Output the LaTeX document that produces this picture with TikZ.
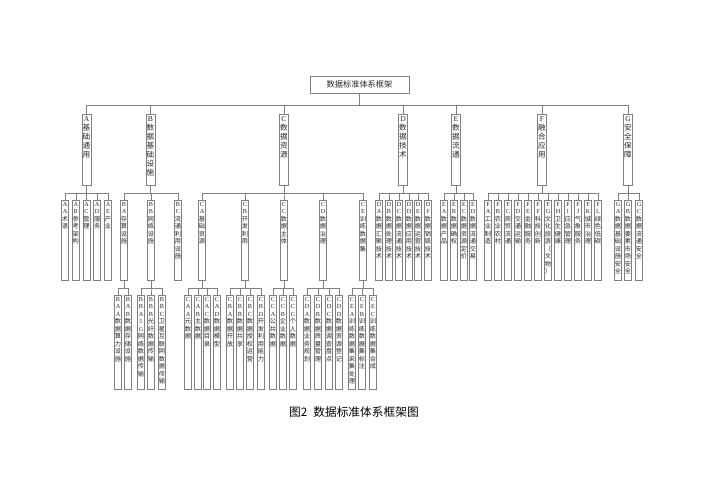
\documentclass[tikz,border=0pt]{standalone}
\usepackage{fontspec}
\setmainfont{Liberation Serif}
\newfontfamily\cjk{Noto Sans CJK SC}
\makeatletter
% one character per line, Latin in serif, Chinese in the CJK font
\newcommand\vchar{\ifnum\expandafter`\vch<256 \vch\else{\cjk\vch}\fi}
\newcommand\vloop[1]{\@tfor\vch:=#1\do{\hbox to\hsize{\hss\vchar\hss}}}
\newcommand\vlabel[1]{\parbox[t][\vh][t]{\vw}{\vloop{#1}}}
\makeatother
\begin{document}
\begin{tikzpicture}[x=0.03cm,y=-0.03cm,
  box/.style={draw=black!50,line width=0.5pt,inner xsep=0.5pt,inner ysep=1.5pt,anchor=north,text=black!85},
  one/.style={box,font=\fontsize{6.5}{7.7}\selectfont,execute at begin node={\def\vw{0.235cm}\def\vh{2.02cm}}},
  two/.style={box,font=\fontsize{5.3}{6.4}\selectfont,execute at begin node={\def\vw{0.175cm}\def\vh{2.29cm}}},
  three/.style={box,font=\fontsize{5.3}{6.4}\selectfont,execute at begin node={\def\vw{0.175cm}\def\vh{2.71cm}}},
  link/.style={draw=black!50,line width=0.5pt}]
\useasboundingbox (0,0) rectangle (707,500);

% Root
\node[draw=black!50,line width=0.5pt,minimum width=2.97cm,minimum height=0.51cm,inner sep=0,
  font=\cjk\fontsize{7}{8}\selectfont,text=black!85] (root) at (359.5,84.5) {数据标准体系框架};

% First level
\node[one] (a) at (86.5,114) {\vlabel{A基础通用}};
\node[one] (b) at (150.5,114) {\vlabel{B数据基础设施}};
\node[one] (c) at (284,114) {\vlabel{C数据资源}};
\node[one] (d) at (403,114) {\vlabel{D数据技术}};
\node[one] (e) at (456,114) {\vlabel{E数据流通}};
\node[one] (f) at (542,114) {\vlabel{F融合应用}};
\node[one] (g) at (628,114) {\vlabel{G安全保障}};

% Second level
\node[two] (aa) at (65,200) {\vlabel{AA术语}};
\node[two] (ab) at (75.8,200) {\vlabel{AB参考架构}};
\node[two] (ac) at (86.5,200) {\vlabel{AC管理}};
\node[two] (ad) at (97.2,200) {\vlabel{AD服务}};
\node[two] (ae) at (108,200) {\vlabel{AE产业}};
\node[two] (ba) at (124,200) {\vlabel{BA存算设施}};
\node[two] (bb) at (151,200) {\vlabel{BB网络设施}};
\node[two] (bc) at (178,200) {\vlabel{BC流通利用设施}};
\node[two] (ca) at (202,200) {\vlabel{CA基础资源}};
\node[two] (cb) at (245,200) {\vlabel{CB开发利用}};
\node[two] (cc) at (284,200) {\vlabel{CC数据主体}};
\node[two] (cd) at (323,200) {\vlabel{CD数据治理}};
\node[two] (ce) at (363,200) {\vlabel{CE训练数据集}};
\node[two] (da) at (379,200) {\vlabel{DA数据汇聚技术}};
\node[two] (db) at (389,200) {\vlabel{DB数据处理技术}};
\node[two] (dc) at (399,200) {\vlabel{DC数据流通技术}};
\node[two] (dd) at (409,200) {\vlabel{DD数据应用技术}};
\node[two] (de) at (418,200) {\vlabel{DE数据运营技术}};
\node[two] (df) at (428,200) {\vlabel{DF数据销毁技术}};
\node[two] (ea) at (444,200) {\vlabel{EA数据产品}};
\node[two] (eb) at (454,200) {\vlabel{EB数据确权}};
\node[two] (ec) at (464,200) {\vlabel{EC数据资源定价}};
\node[two] (ed) at (473,200) {\vlabel{ED数据流通交易}};
\node[two] (fa) at (488,200) {\vlabel{FA工业制造}};
\node[two] (fb) at (498,200) {\vlabel{FB农业农村}};
\node[two] (fc) at (508,200) {\vlabel{FC商贸流通}};
\node[two] (fd) at (518,200) {\vlabel{FD交通运输}};
\node[two] (fe) at (528,200) {\vlabel{FE金融服务}};
\node[two] (ff) at (538,200) {\vlabel{FF科技创新}};
\node[two] (fg) at (548,200) {\vlabel{FG文化旅游（文物）}};
\node[two] (fh) at (558,200) {\vlabel{FH卫生健康}};
\node[two] (fi) at (568,200) {\vlabel{FI应急管理}};
\node[two] (fj) at (578,200) {\vlabel{FJ气象服务}};
\node[two] (fk) at (588,200) {\vlabel{FK城市治理}};
\node[two] (fl) at (598,200) {\vlabel{FL绿色低碳}};
\node[two] (ga) at (618,200) {\vlabel{GA数据基础设施安全}};
\node[two] (gb) at (628,200) {\vlabel{GB数据要素市场安全}};
\node[two] (gc) at (639,200) {\vlabel{GC数据流通安全}};

% Third level
\node[three] (baa) at (118,295) {\vlabel{BAA数据算力设施}};
\node[three] (bab) at (128,295) {\vlabel{BAB数据存储设施}};
\node[three] (bba) at (141,295) {\vlabel{BBA5G网络数据传输}};
\node[three] (bbb) at (151,295) {\vlabel{BBB光纤数据传输}};
\node[three] (bbc) at (162,295) {\vlabel{BBC卫星互联网数据传输}};
\node[three] (caa) at (188,295) {\vlabel{CAA元数据}};
\node[three] (cab) at (198,295) {\vlabel{CAB主数据}};
\node[three] (cac) at (207,295) {\vlabel{CAC数据目录}};
\node[three] (cad) at (217,295) {\vlabel{CAD数据模型}};
\node[three] (cba) at (230,295) {\vlabel{CBA数据开放}};
\node[three] (cbb) at (240,295) {\vlabel{CBB数据共享}};
\node[three] (cbc) at (250,295) {\vlabel{CBC数据授权运营}};
\node[three] (cbd) at (261,295) {\vlabel{CBD开发利用能力}};
\node[three] (cca) at (273,295) {\vlabel{CCA公共数据}};
\node[three] (ccb) at (283,295) {\vlabel{CCB企业数据}};
\node[three] (ccc) at (293,295) {\vlabel{CCC个人数据}};
\node[three] (cda) at (307,295) {\vlabel{CDA数据业务规划}};
\node[three] (cdb) at (318,295) {\vlabel{CDB数据质量管理}};
\node[three] (cdc) at (329,295) {\vlabel{CDC数据调查盘点}};
\node[three] (cdd) at (339,295) {\vlabel{CDD数据资源登记}};
\node[three] (cea) at (352,295) {\vlabel{CEA训练数据集采集处理}};
\node[three] (ceb) at (362,295) {\vlabel{CEB训练数据集标注}};
\node[three] (cec) at (373,295) {\vlabel{CEC训练数据集合成}};

% Links
\foreach \k in {a,b,c,d,e,f,g} \draw[link] (root.south) -- ++(0,12) -| (\k.north);
\foreach \k in {aa,ab,ac,ad,ae} \draw[link] (a.south) -- ++(0,8) -| (\k.north);
\foreach \k in {ba,bb,bc} \draw[link] (b.south) -- ++(0,8) -| (\k.north);
\foreach \k in {ca,cb,cc,cd,ce} \draw[link] (c.south) -- ++(0,8) -| (\k.north);
\foreach \k in {da,db,dc,dd,de,df} \draw[link] (d.south) -- ++(0,8) -| (\k.north);
\foreach \k in {ea,eb,ec,ed} \draw[link] (e.south) -- ++(0,8) -| (\k.north);
\foreach \k in {fa,fb,fc,fd,fe,ff,fg,fh,fi,fj,fk,fl} \draw[link] (f.south) -- ++(0,8) -| (\k.north);
\foreach \k in {ga,gb,gc} \draw[link] (g.south) -- ++(0,8) -| (\k.north);
\foreach \k in {baa,bab} \draw[link] (ba.south) -- ++(0,8) -| (\k.north);
\foreach \k in {bba,bbb,bbc} \draw[link] (bb.south) -- ++(0,8) -| (\k.north);
\foreach \k in {caa,cab,cac,cad} \draw[link] (ca.south) -- ++(0,8) -| (\k.north);
\foreach \k in {cba,cbb,cbc,cbd} \draw[link] (cb.south) -- ++(0,8) -| (\k.north);
\foreach \k in {cca,ccb,ccc} \draw[link] (cc.south) -- ++(0,8) -| (\k.north);
\foreach \k in {cda,cdb,cdc,cdd} \draw[link] (cd.south) -- ++(0,8) -| (\k.north);
\foreach \k in {cea,ceb,cec} \draw[link] (ce.south) -- ++(0,8) -| (\k.north);

% Caption
\node[font=\cjk\fontsize{10}{12}\selectfont] (caption) at (354,412) {图2\enspace 数据标准体系框架图};
\end{tikzpicture}
\end{document}
